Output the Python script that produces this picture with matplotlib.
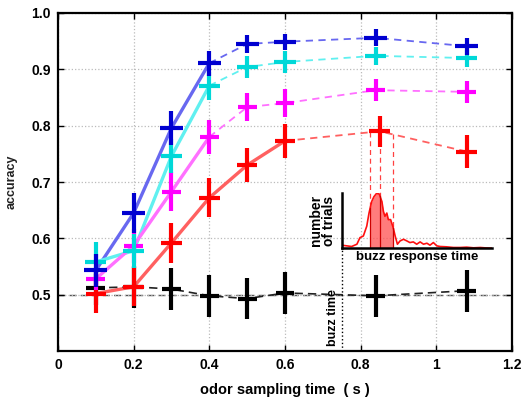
import matplotlib.pyplot as plt
import numpy as np

plt.rcParams['font.family'] = ['Liberation Sans', 'DejaVu Sans']
plt.rcParams['font.weight'] = 'bold'
plt.rcParams['axes.labelweight'] = 'bold'

# odor sampling time (s) and accuracy for each condition
x_main = [0.1, 0.2, 0.3, 0.4, 0.5, 0.6, 0.84, 1.08]
x_red = [0.1, 0.2, 0.3, 0.4, 0.5, 0.6, 0.85, 1.08]

blue = [0.543, 0.645, 0.796, 0.911, 0.945, 0.949, 0.956, 0.941]
blue_err = [0.03, 0.035, 0.03, 0.022, 0.016, 0.014, 0.015, 0.015]
cyan = [0.558, 0.578, 0.746, 0.871, 0.904, 0.913, 0.924, 0.920]
cyan_err = [0.035, 0.03, 0.03, 0.025, 0.02, 0.02, 0.016, 0.015]
magenta = [0.528, 0.587, 0.683, 0.780, 0.833, 0.840, 0.863, 0.860]
magenta_err = [0.02, 0.03, 0.035, 0.03, 0.025, 0.025, 0.02, 0.02]
red = [0.502, 0.514, 0.592, 0.672, 0.730, 0.773, 0.790, 0.754]
red_err = [0.035, 0.035, 0.035, 0.035, 0.03, 0.03, 0.028, 0.03]
black = [0.512, 0.514, 0.510, 0.498, 0.493, 0.503, 0.498, 0.507]
black_err = [0.03, 0.037, 0.037, 0.037, 0.037, 0.037, 0.037, 0.037]

# index of last point drawn with a solid line
solid_until = {'blue': 3, 'cyan': 3, 'magenta': 3, 'red': 5}

# buzz response time histogram (inset)
hist_t = [0.750, 0.763, 0.776, 0.790, 0.798, 0.807, 0.816, 0.822, 0.829, 0.835,
          0.842, 0.849, 0.856, 0.860, 0.864, 0.869, 0.873, 0.879, 0.886, 0.891,
          0.897, 0.904, 0.913, 0.922, 0.930, 0.939, 0.948, 0.957, 0.966, 0.975,
          0.983, 0.992, 1.001, 1.010, 1.027, 1.045, 1.063, 1.080, 1.098, 1.116,
          1.127, 1.146]
hist_n = [10, 8, 6, 13, 33, 38, 68, 108, 143, 158,
          168, 166, 143, 113, 98, 108, 88, 88, 63, 38,
          13, 23, 28, 23, 18, 20, 13, 20, 13, 16,
          10, 18, 8, 6, 5, 3, 3, 4, 2, 3,
          2, 1]
quantiles = [0.825, 0.851, 0.886]
buzz_time = 0.75

fig = plt.figure(figsize=(5.22, 4.0), dpi=100)
ax = fig.add_axes([0.111, 0.1225, 0.870, 0.845])

ax.grid(True, linestyle=':', color='#bbbbbb', linewidth=0.9)
ax.axhline(0.5, color='#555555', linestyle='--', linewidth=1.0, dashes=(5, 3), zorder=1)

series = [
    (x_main, blue, blue_err, 0.03, '#6868f0', '#0000d0', 'blue'),
    (x_main, cyan, cyan_err, 0.028, '#60f0f0', '#00d8d8', 'cyan'),
    (x_main, magenta, magenta_err, 0.025, '#ff70ff', '#ff00ff', 'magenta'),
    (x_red, red, red_err, 0.027, '#ff6060', '#ff0000', 'red'),
]
for xs, ys, ye, xe, lc, mc, name in series:
    k = solid_until[name]
    ax.plot(xs[:k + 1], ys[:k + 1], color=lc, linewidth=2.4, zorder=2)
    ax.plot(xs[k:], ys[k:], color=lc, linewidth=1.3, linestyle='--', dashes=(4, 3), zorder=2)

ax.plot(x_main, black, color='#222222', linewidth=1.2, linestyle='--', dashes=(5, 3), zorder=2)

# draw crosses back to front
ax.errorbar(x_main, black, yerr=black_err, xerr=0.025, fmt='none', ecolor='black',
            elinewidth=3.0, capsize=0, zorder=3)
for xs, ys, ye, xe, lc, mc, name in series[::-1]:
    ax.errorbar(xs, ys, yerr=ye, xerr=xe, fmt='none', ecolor=mc,
                elinewidth=3.0, capsize=0, zorder=3)

ax.set_xlim(0, 1.2)
ax.set_ylim(0.4, 1.0)
ax.set_xticks([0, 0.2, 0.4, 0.6, 0.8, 1.0, 1.2])
ax.set_xticklabels(['0', '0.2', '0.4', '0.6', '0.8', '1', '1.2'])
ax.set_yticks([0.5, 0.6, 0.7, 0.8, 0.9, 1.0])
ax.tick_params(direction='in', top=True, right=True, length=4, width=1,
               labelsize=10, pad=5)
for s in ax.spines.values():
    s.set_linewidth(1.6)
ax.set_xlabel('odor sampling time  ( s )', fontsize=10.5, labelpad=8)
ax.set_ylabel('accuracy', fontsize=9, labelpad=10, color='#222222')

# inset histogram of buzz response times
ins_bottom, ins_height, ins_top_n = 0.582, 0.099, 170
ins = ax.inset_axes([buzz_time, ins_bottom, 1.147 - buzz_time, ins_height],
                    transform=ax.transData)
ins.patch.set_alpha(0)
ins.plot(hist_t, hist_n, color='#ff1010', linewidth=1.2)
qt = np.linspace(quantiles[0], quantiles[-1], 60)
ins.fill_between(qt, 0, np.interp(qt, hist_t, hist_n), color='#ff5050', alpha=0.75, linewidth=0)
for q in quantiles:
    ins.plot([q, q], [0, np.interp(q, hist_t, hist_n)], color='#cc0000', linewidth=0.9)
ins.set_xlim(buzz_time, 1.147)
ins.set_ylim(0, ins_top_n)
ins.set_xticks([])
ins.set_yticks([])
ins.spines['top'].set_visible(False)
ins.spines['right'].set_visible(False)
ins.spines['left'].set_linewidth(1.8)
ins.spines['bottom'].set_linewidth(1.8)
ins.set_xlabel('buzz response time', fontsize=9.5, labelpad=2)
ins.set_ylabel('number\nof trials', fontsize=10, labelpad=4, linespacing=0.9)

# dashed guides from the red cross down to the histogram
for q in quantiles:
    top = np.interp(q, x_red, red)
    bottom = ins_bottom + np.interp(q, hist_t, hist_n) / ins_top_n * ins_height
    ax.plot([q, q], [top, bottom], color='#ff4040', linewidth=0.9,
            linestyle='--', dashes=(4, 3), zorder=2)

# buzz time marker
ax.plot([buzz_time, buzz_time], [0.4, ins_bottom], color='black', linestyle=':',
        linewidth=1.0, zorder=2)
ax.text(buzz_time - 0.022, 0.459, 'buzz time', rotation=90, fontsize=9,
        ha='center', va='center')

fig.savefig('out.png', dpi=100)
